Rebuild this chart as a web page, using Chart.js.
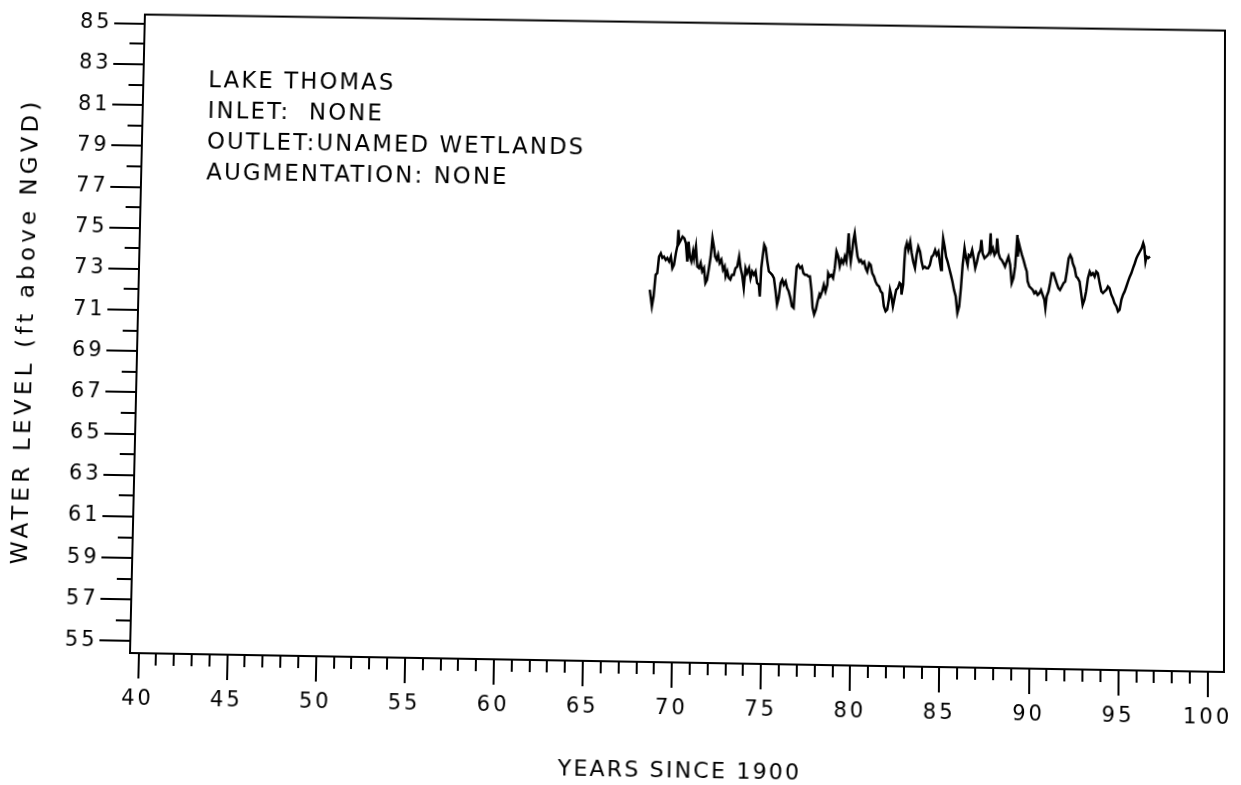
<!DOCTYPE html>
<html><head><meta charset="utf-8">
<script src="https://cdn.jsdelivr.net/npm/chart.js@4.4.1/dist/chart.umd.min.js"></script>
<style>
html,body{margin:0;padding:0;background:#fff;overflow:hidden;}
#wrap{width:1241px;height:785px;transform-origin:0 0;}
canvas{display:block;}
</style></head><body>
<div id="wrap"><canvas id="c" width="1241" height="785" style="width:1241px;height:785px"></canvas></div>
<script>
const years = [
68.48,68.61,68.70,68.80,68.89,68.98,69.08,69.17,69.26,69.36,69.45,69.55,69.65,69.74,69.83,69.93,70.02,70.06,70.11,70.21,
70.30,70.40,70.49,70.58,70.64,70.72,70.81,70.90,70.96,71.06,71.15,71.25,71.34,71.43,71.53,71.62,71.71,71.81,71.90,71.99,
72.09,72.15,72.24,72.32,72.41,72.51,72.61,72.70,72.76,72.85,72.94,
73.03,73.12,73.22,73.31,73.41,73.51,73.60,73.69,73.79,73.88,73.97,74.08,74.17,74.26,74.36,74.45,74.54,74.64,74.70,74.77,
74.83,74.92,75.01,75.11,75.20,75.30,75.39,75.49,75.59,75.68,75.77,75.87,75.96,76.05,76.15,76.24,76.33,76.43,76.52,76.62,
76.67,76.77,76.86,76.96,77.06,77.15,77.24,77.34,77.43,77.52,77.62,77.69,77.78,77.88,
77.97,78.07,78.12,78.22,78.31,78.41,78.51,78.55,78.64,78.73,78.83,78.92,79.01,79.11,79.20,79.29,79.39,79.48,79.57,79.63,
79.69,79.74,79.82,79.88,79.96,80.03,80.11,80.20,80.30,80.39,80.48,80.58,80.67,80.76,80.86,80.95,81.04,81.14,81.23,81.32,
81.43,81.53,81.62,81.71,81.81,81.90,81.99,82.05,82.12,82.22,82.31,82.40,82.50,82.59,82.68,82.70,
82.79,82.85,82.90,82.98,83.07,83.17,83.26,83.35,83.45,83.54,83.63,83.73,83.82,83.91,84.01,84.10,84.19,84.29,84.39,84.48,
84.58,84.67,84.77,84.86,84.92,84.97,85.03,85.12,85.20,85.29,85.38,85.48,85.57,85.66,85.76,85.86,85.96,86.05,86.14,86.24,
86.33,86.42,86.48,86.57,86.67,86.76,86.85,86.95,87.04,87.13,87.19,87.26,87.37,87.47,87.56,
87.65,87.71,87.75,87.84,87.93,88.03,88.08,88.16,88.25,88.34,88.44,88.53,88.62,88.72,88.82,88.91,89.01,89.10,89.16,89.22,
89.25,89.31,89.38,89.48,89.57,89.67,89.76,89.81,89.91,90.00,90.10,90.19,90.28,90.38,90.48,90.57,90.66,90.76,90.82,90.89,
90.99,91.08,91.17,91.27,91.36,91.45,91.55,91.64,91.74,91.84,91.93,92.02,92.12,92.21,92.30,
92.35,92.46,92.55,92.64,92.74,92.83,92.92,93.02,93.11,93.21,93.31,93.40,93.49,93.59,93.68,93.77,93.87,93.97,94.06,94.15,
94.25,94.34,94.43,94.53,94.62,94.71,94.82,94.91,95.00,95.10,95.19,95.28,95.38,95.47,95.57,95.66,95.75,95.85,95.94,96.03,
96.13,96.23,96.32,96.38,96.45,96.51,96.60,96.70
];
const levels = [
72.38,71.58,72.06,73.11,73.19,74.00,74.16,73.94,74.00,73.84,73.93,73.77,74.01,73.45,73.61,74.18,74.58,75.31,74.67,74.83,
74.99,74.91,74.67,73.78,74.75,74.02,73.79,74.27,73.95,74.52,73.55,73.47,73.72,73.31,73.48,72.75,72.91,73.48,74.04,74.94,
74.45,74.05,73.89,74.13,73.73,73.89,73.41,73.57,73.09,73.33,73.02,
72.94,73.17,73.17,73.49,73.57,74.06,73.50,73.18,72.54,73.50,73.26,73.51,73.02,73.34,73.19,73.35,72.79,72.71,72.14,73.52,
74.00,74.65,74.49,73.84,73.36,73.28,73.20,73.04,72.40,71.76,72.08,72.81,72.97,72.73,72.89,72.57,72.41,72.09,71.69,71.61,
72.41,73.62,73.71,73.55,73.63,73.31,73.23,73.23,73.15,73.15,72.43,71.63,71.31,71.55,
71.95,72.28,72.19,72.43,72.75,72.43,72.76,73.32,73.16,73.24,73.09,73.57,74.38,74.14,73.66,73.98,73.82,74.14,73.90,74.46,
75.27,74.47,73.90,74.31,74.95,75.28,74.71,74.15,73.91,73.99,73.83,73.91,73.59,73.43,73.84,73.76,73.36,73.20,72.96,72.80,
72.72,72.48,72.40,71.76,71.52,71.60,72.08,72.57,72.33,71.76,72.17,72.57,72.66,72.90,72.82,72.34,
72.82,73.95,74.59,74.84,74.51,74.92,74.36,73.95,73.64,74.28,74.68,74.44,73.96,73.64,73.71,73.64,73.64,73.80,74.20,74.28,
74.53,74.29,74.45,73.89,73.57,74.29,75.10,74.69,74.21,73.97,73.66,73.33,73.01,72.61,72.29,71.49,71.81,72.70,73.83,74.64,
74.15,73.83,74.31,74.24,74.56,74.16,73.68,74.00,74.40,74.56,75.05,74.41,74.17,74.25,74.33,
74.49,75.38,74.49,74.66,74.34,74.50,75.14,74.42,74.18,74.10,73.94,73.78,74.02,74.26,73.87,72.98,73.23,73.79,74.52,75.32,
74.27,74.92,74.68,74.36,74.12,73.80,73.56,73.08,72.83,72.76,72.67,72.51,72.59,72.43,72.51,72.67,72.44,72.20,71.79,72.36,
72.60,73.01,73.49,73.49,73.25,73.01,72.77,72.69,72.85,73.02,73.10,73.58,74.23,74.39,74.23,
73.99,73.75,73.35,73.27,73.11,72.55,71.98,72.23,72.63,73.28,73.60,73.44,73.52,73.36,73.61,73.53,73.05,72.65,72.57,72.65,
72.73,72.89,72.81,72.49,72.33,72.09,71.93,71.69,71.77,72.26,72.50,72.66,72.91,73.15,73.39,73.56,73.80,74.04,74.29,74.45,
74.61,74.77,75.02,74.85,74.13,74.37,74.30,74.38
];
const xMajorTicks = [40,45,50,55,60,65,70,75,80,85,90,95,100];
const xMinorTicks = [41,42,43,44,46,47,48,49,51,52,53,54,56,57,58,59,61,62,63,64,66,67,68,69,71,72,73,74,76,77,78,79,81,82,83,84,86,87,88,89,91,92,93,94,96,97,98,99];
const yMajorTicks = [55,57,59,61,63,65,67,69,71,73,75,77,79,81,83,85];
const yMinorTicks = [56,58,60,62,64,66,68,70,72,74,76,78,80,82,84];
const annotationLines = ["LAKE THOMAS","INLET:  NONE","OUTLET:UNAMED WETLANDS","AUGMENTATION: NONE"];
const xTitle = "YEARS SINCE 1900";
const yTitle = "WATER LEVEL (ft above NGVD)";

// page skew of the scanned original: frame corners before -> after
const frameCorners = [[130,11],[1224,11],[1224,653],[130,653]];
const scanCorners  = [[145,11],[1225,27],[1224,672],[130,653]];

function homography(src, dst) {
  const A = [], B = [];
  for (let i = 0; i < 4; i++) {
    const [x, y] = src[i], [u, v] = dst[i];
    A.push([x, y, 1, 0, 0, 0, -u * x, -u * y]); B.push(u);
    A.push([0, 0, 0, x, y, 1, -v * x, -v * y]); B.push(v);
  }
  const n = 8;
  for (let c = 0; c < n; c++) {
    let p = c;
    for (let r = c + 1; r < n; r++) if (Math.abs(A[r][c]) > Math.abs(A[p][c])) p = r;
    [A[c], A[p]] = [A[p], A[c]]; [B[c], B[p]] = [B[p], B[c]];
    for (let r = 0; r < n; r++) {
      if (r === c) continue;
      const f = A[r][c] / A[c][c];
      for (let k = c; k < n; k++) A[r][k] -= f * A[c][k];
      B[r] -= f * B[c];
    }
  }
  return B.map((b, i) => b / A[i][i]);
}
const [ha, hb, hc, hd, he, hf, hg, hh] = homography(frameCorners, scanCorners);
document.getElementById('wrap').style.transform =
  `matrix3d(${ha},${hd},0,${hg},${hb},${he},0,${hh},0,0,1,0,${hc},${hf},0,1)`;

const FONT = '"DejaVu Sans", "Liberation Sans", Arial, sans-serif';
const points = years.map((yr, i) => ({x: yr, y: levels[i]}));

const decor = {
  id: 'decor',
  beforeDraw(chart) {
    const c = chart.ctx;
    c.save(); c.fillStyle = '#fff'; c.fillRect(0, 0, chart.width, chart.height); c.restore();
    c.letterSpacing = '3px';
  },
  afterDraw(chart) {
    const {ctx, chartArea: a, scales: {x, y}} = chart;
    ctx.save();
    ctx.strokeStyle = '#000'; ctx.lineWidth = 2;
    ctx.strokeRect(a.left, a.top, a.right - a.left, a.bottom - a.top);
    ctx.beginPath();
    yMinorTicks.forEach(v => { const p = Math.round(y.getPixelForValue(v)); ctx.moveTo(a.left - 15, p); ctx.lineTo(a.left, p); });
    xMinorTicks.forEach(v => { const p = Math.round(x.getPixelForValue(v)); ctx.moveTo(p, a.bottom); ctx.lineTo(p, a.bottom + 12); });
    ctx.stroke();
    ctx.fillStyle = '#000';
    ctx.font = '23px ' + FONT;
    ctx.letterSpacing = '2.2px';
    ctx.textBaseline = 'middle'; ctx.textAlign = 'left';
    annotationLines.forEach((t, i) => ctx.fillText(t, 196, 81 + i * 31));
    ctx.font = '22px ' + FONT;
    ctx.letterSpacing = '2.2px'; ctx.textAlign = 'center';
    ctx.fillText(xTitle, (a.left + a.right) / 2 + 5, 760);
    ctx.save();
    ctx.translate(18, (a.top + a.bottom) / 2);
    ctx.rotate(-Math.PI / 2);
    ctx.font = '23px ' + FONT;
    ctx.letterSpacing = '4.2px';
    ctx.fillText(yTitle, 0, 0);
    ctx.restore();
    ctx.restore();
  }
};

new Chart(document.getElementById('c'), {
  type: 'line',
  data: { datasets: [{ data: points, borderColor: '#000', borderWidth: 2.5, pointRadius: 0, tension: 0, fill: false }] },
  options: {
    responsive: false, animation: false, events: [],
    layout: { padding: { left: 0, top: 11, right: 17, bottom: 0 } },
    plugins: { legend: { display: false }, tooltip: { enabled: false } },
    scales: {
      x: {
        type: 'linear', min: 39.52, max: 100.91,
        afterBuildTicks: s => { s.ticks = xMajorTicks.map(v => ({value: v})); },
        afterFit: s => { s.height = 132; },
        grid: { drawOnChartArea: false, drawTicks: true, tickLength: 25, lineWidth: 2, color: '#000' },
        border: { display: true, color: '#000', width: 2 },
        ticks: { color: '#000', font: { size: 21, family: FONT }, padding: 8, maxRotation: 0, autoSkip: false }
      },
      y: {
        type: 'linear', min: 54.44, max: 85.45,
        afterBuildTicks: s => { s.ticks = yMajorTicks.map(v => ({value: v})); },
        afterFit: s => { s.width = 130; },
        grid: { drawOnChartArea: false, drawTicks: true, tickLength: 31, lineWidth: 2, color: '#000' },
        border: { display: true, color: '#000', width: 2 },
        ticks: { color: '#000', font: { size: 21, family: FONT }, padding: 2, autoSkip: false }
      }
    }
  },
  plugins: [decor]
});
</script>
</body></html>
